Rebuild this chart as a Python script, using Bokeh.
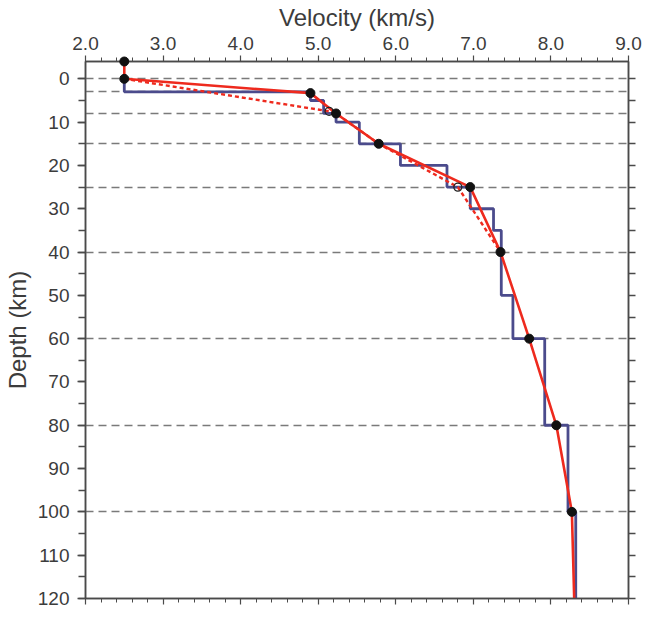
from bokeh.plotting import figure
from bokeh.models import LinearAxis, SingleIntervalTicker, PrintfTickFormatter, CustomJSTickFormatter
from bokeh.embed import file_html
from bokeh.resources import INLINE

# ---- data ----
# layered (step) model: layer top depth, bottom depth, velocity
layer_top = [0, 3, 5, 8, 10, 15, 20, 25, 30, 35, 50, 60, 80, 100]
layer_bottom = [3, 5, 8, 10, 15, 20, 25, 30, 35, 50, 60, 80, 100, 120]
layer_vel = [2.5, 4.9, 5.07, 5.23, 5.53, 6.06, 6.66, 6.96, 7.26, 7.36, 7.51, 7.92, 8.22, 8.32]

# gradient model (solid red)
grad_vel = [2.5, 2.5, 4.9, 5.23, 5.78, 6.96, 7.35, 7.72, 8.07, 8.27, 8.30]
grad_depth = [-4, 0, 3.3, 8, 15, 25, 40, 60, 80, 100, 120]

# alternative gradient (dashed red)
alt_vel = [2.5, 5.14, 5.23, 5.78, 6.80, 7.35]
alt_depth = [0, 7.5, 8, 15, 25, 40]

# nodes
node_vel = [2.5, 2.5, 4.9, 5.23, 5.78, 6.96, 7.35, 7.72, 8.07, 8.27]
node_depth = [-4, 0, 3.3, 8, 15, 25, 40, 60, 80, 100]
open_vel = [5.14, 6.80]
open_depth = [7.5, 25]

# interface depths (dashed gray)
interface_depth = [0, 3, 8, 15, 25, 40, 60, 80, 100]

x_ticks_interval = 1.0
y_label_interval = 10

FONT = "Liberation Sans"
TXT = "#3c3c3c"
AX = "#4a4a4a"

p = figure(width=648, height=612, x_range=(2, 9), y_range=(120, -4),
           x_axis_location="above", output_backend="svg", toolbar_location=None,
           min_border_left=82, min_border_top=60, min_border_right=20, min_border_bottom=14)
p.xgrid.visible = False
p.ygrid.visible = False
p.outline_line_color = AX
p.outline_line_width = 1.5
p.background_fill_color = "white"
p.border_fill_color = "white"

# top axis
xa = p.xaxis[0]
xa.ticker = SingleIntervalTicker(interval=x_ticks_interval, num_minor_ticks=5)
xa.formatter = PrintfTickFormatter(format="%.1f")
xa.axis_label = "Velocity (km/s)"
xa.axis_label_text_font = FONT
xa.axis_label_text_font_style = "normal"
xa.axis_label_text_font_size = "24px"
xa.axis_label_text_color = TXT
xa.axis_label_standoff = 3
xa.major_label_text_font = FONT
xa.major_label_text_font_size = "19px"
xa.major_label_text_color = TXT
xa.major_label_standoff = 6
xa.major_tick_out = 6
xa.major_tick_in = 0
xa.minor_tick_out = 4
xa.minor_tick_in = 0
xa.axis_line_color = AX
xa.major_tick_line_color = AX
xa.minor_tick_line_color = AX
xa.axis_line_width = 1.5
xa.major_tick_line_width = 1.2
xa.minor_tick_line_width = 1

# left axis
ya = p.yaxis[0]
ya.ticker = SingleIntervalTicker(interval=y_label_interval, num_minor_ticks=2)
ya.axis_label = "Depth (km)"
ya.axis_label_text_font = FONT
ya.axis_label_text_font_style = "normal"
ya.axis_label_text_font_size = "24px"
ya.axis_label_text_color = TXT
ya.axis_label_standoff = 4
ya.major_label_text_font = FONT
ya.major_label_text_font_size = "19px"
ya.major_label_text_color = TXT
ya.major_label_standoff = 8
ya.major_tick_out = 8
ya.major_tick_in = 0
ya.minor_tick_out = 7
ya.minor_tick_in = 0
ya.axis_line_color = AX
ya.major_tick_line_color = AX
ya.minor_tick_line_color = AX
ya.axis_line_width = 1.5
ya.major_tick_line_width = 1.5
ya.minor_tick_line_width = 1.5

blank = CustomJSTickFormatter(code="return ''")

# bottom axis (ticks only)
xb = LinearAxis(ticker=SingleIntervalTicker(interval=x_ticks_interval, num_minor_ticks=5),
                formatter=blank, major_label_standoff=0,
                major_tick_out=6, major_tick_in=0, minor_tick_out=4, minor_tick_in=0,
                axis_line_color=AX, major_tick_line_color=AX, minor_tick_line_color=AX,
                axis_line_width=1.5, major_tick_line_width=1.2, minor_tick_line_width=1)
p.add_layout(xb, "below")

# right axis (ticks only)
yr = LinearAxis(ticker=SingleIntervalTicker(interval=5, num_minor_ticks=0),
                formatter=blank, major_label_standoff=0,
                major_tick_out=7, major_tick_in=0,
                axis_line_color=AX, major_tick_line_color=AX,
                axis_line_width=1.5, major_tick_line_width=1.5)
p.add_layout(yr, "right")

# interface dashed lines
p.hspan(y=interface_depth, line_color="#7a7a7a", line_width=1.6, line_dash="8 5")

# step model
step_x, step_y = [], []
for t, b, v in zip(layer_top, layer_bottom, layer_vel):
    step_x += [v, v]
    step_y += [t, b]
p.line(step_x, step_y, line_color="#4b4b8c", line_width=2.8)

# dashed red
p.line(alt_vel, alt_depth, line_color="#ee2a1e", line_width=2.4, line_dash="4 3")
# solid red
p.line(grad_vel, grad_depth, line_color="#ee2a1e", line_width=2.6)

# nodes
p.scatter(open_vel, open_depth, size=8, fill_color=None, line_color="#222222", line_width=1.3)
p.scatter(node_vel, node_depth, size=9, fill_color="#111111", line_color="#111111", level="overlay")

open("out.html", "w").write(file_html(p, INLINE))
